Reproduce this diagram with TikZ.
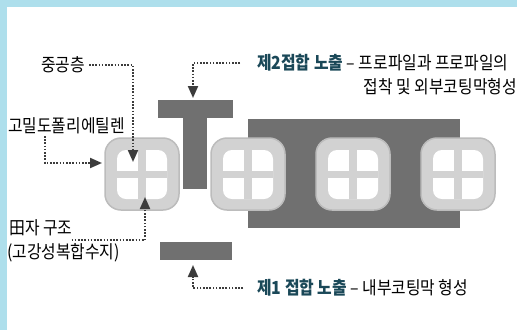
\documentclass[tikz,border=0pt]{standalone}
\usepackage{fontspec}
\setmainfont{Noto Sans CJK KR}[FakeStretch=0.88]
\usetikzlibrary{arrows.meta}

\definecolor{frameblue}{RGB}{174,223,236}
\definecolor{blockgray}{RGB}{112,112,112}
\definecolor{ringgray}{RGB}{210,210,210}
\definecolor{ringedge}{RGB}{188,188,188}
\definecolor{tealtext}{RGB}{26,72,88}
\definecolor{leadgray}{RGB}{60,60,60}
\newcommand\jointtag[1]{{\bfseries\color{tealtext}#1}}

\begin{document}
\begin{tikzpicture}[x=1pt,y=-1pt,
  lead/.style={line width=2pt,leadgray,dash pattern=on 1.6pt off 1.6pt,-{Triangle[length=12pt,width=10pt]}},
  lbl/.style={font=\fontsize{18}{20}\selectfont,inner sep=1pt}]
\useasboundingbox (0,0) rectangle (521,330);
\fill[white] (0,0) rectangle (521,330);
\fill[frameblue] (0,0) rectangle (517,7);
\fill[frameblue] (0,0) rectangle (7,330);

% plates
\fill[blockgray] (158,100) rectangle (233,118);
\fill[blockgray] (183,118) rectangle (207,189);
\fill[blockgray] (248,119) rectangle (460,228);
\fill[blockgray] (160,242) rectangle (232,260);

% profiles
\foreach \cx in {142,248,353,458}{
  \filldraw[fill=ringgray,draw=ringedge,line width=1.5pt,rounded corners=16pt] (\cx-37,138) rectangle (\cx+37,210);
  \fill[white,rounded corners=9pt] (\cx-25,150) rectangle (\cx+25,199);
  \fill[ringgray] (\cx-4,150) rectangle (\cx+4,199);
  \fill[ringgray] (\cx-25,171) rectangle (\cx+25,178);
}

% labels
\node[lbl,anchor=east] (hollow) at (86,65) {중공층};
\node[lbl,anchor=west] (hdpe) at (7,126) {고밀도폴리에틸렌};
\node[lbl,anchor=west] (cross) at (8,228) {田자 구조};
\node[lbl,anchor=west] (resin) at (6,253) {(고강성복합수지)};
\node[lbl,anchor=west] (joint2) at (256,63) {\jointtag{제2접합 노출} – 프로파일과 프로파일의};
\node[lbl,anchor=east] (joint2b) at (518,87) {접착 및 외부코팅막형성};
\node[lbl,anchor=west] (joint1) at (256,288) {\jointtag{제1 접합 노출} – 내부코팅막 형성};

\coordinate (hollowtip) at (133,162);
\coordinate (hdpebend) at (45,136);
\coordinate (hdpetip) at (102,163);
\coordinate (crosstip) at (145,197);
\coordinate (toptip) at (193,98);
\coordinate (bottomtip) at (193,265);

% leaders
\draw[lead] ([xshift=3pt]hollow.east) -| (hollowtip);
\draw[lead] (hdpebend) |- (hdpetip);
\draw[lead] ([xshift=-2pt,yshift=-3pt]cross.south east) -| (crosstip);
\draw[lead] ([xshift=-16pt]joint2.west) -| (toptip);
\draw[lead] ([xshift=-13pt]joint1.west) -| (bottomtip);
\end{tikzpicture}
\end{document}
